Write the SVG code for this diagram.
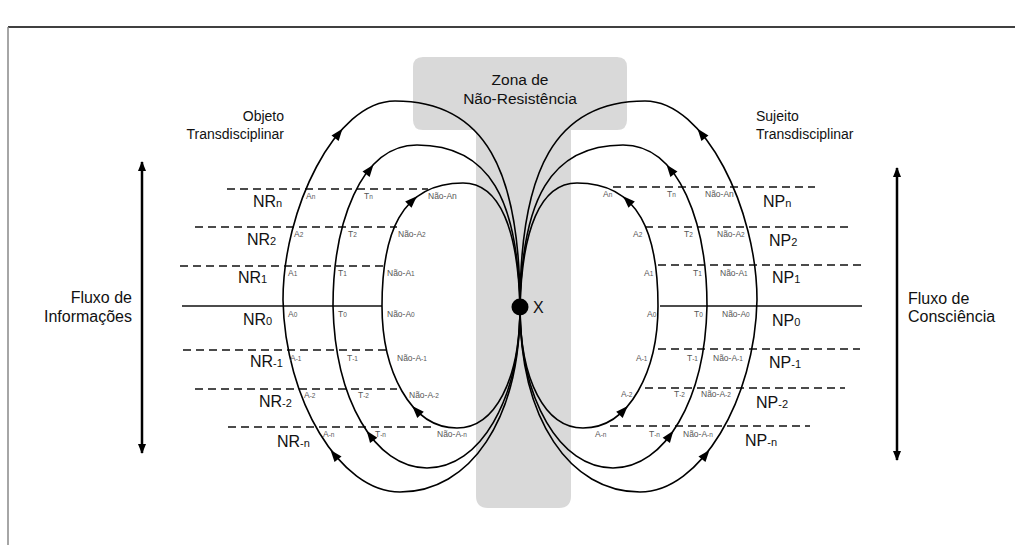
<svg xmlns="http://www.w3.org/2000/svg" xmlns:xlink="http://www.w3.org/1999/xlink" width="1015" height="545" viewBox="0 0 1015 545">
<style>
text{font-family:"Liberation Sans",Arial,sans-serif;}
.big{font-size:16px;fill:#111;}
.sub{font-size:11px;}
.sm{font-size:8.5px;fill:#555;}
.ss{font-size:6.5px;}
.desc{font-size:14px;fill:#111;}
.flux{font-size:16px;fill:#111;}
.loop{fill:none;stroke:#000;stroke-width:1.6;}
.dash{stroke:#111;stroke-width:1.3;stroke-dasharray:8 5;fill:none;}
.solid{stroke:#111;stroke-width:1.3;fill:none;}
.vflow{stroke:#000;stroke-width:2.5;marker-start:url(#vh);marker-end:url(#vh);}
</style>
<defs>
<marker id="vh" viewBox="0 0 10 10" refX="9" refY="5" markerWidth="10" markerHeight="10" markerUnits="userSpaceOnUse" orient="auto-start-reverse"><path d="M0,1 L10,5 L0,9 Z" fill="#000"/></marker>
<polygon id="ah" points="4,0 -8,-4.5 -8,4.5" fill="#000"/>
</defs>
<rect width="1015" height="545" fill="#fff"/>
<g id="frame">
<line x1="8" y1="27" x2="1015" y2="27" stroke="#000" stroke-width="1.5"/>
<line x1="8" y1="27" x2="8" y2="545" stroke="#888" stroke-width="1.5"/>
</g>
<g id="zona">
<path d="M423,57 H617 Q627,57 627,67 V120 Q627,130 617,130 H571 V496 Q571,508 559,508 H488 Q476,508 476,496 V130 H423 Q413,130 413,120 V67 Q413,57 423,57 Z" fill="#d9d9d9"/>
<text x="520" y="85" text-anchor="middle" style="font-size:15.5px;fill:#111">Zona de</text>
<text x="520" y="104" text-anchor="middle" style="font-size:15.5px;fill:#111">Não-Resistência</text>
</g>
<g id="levels-left">
<line class="dash" x1="227" y1="189" x2="428" y2="189"/>
<line class="dash" x1="195" y1="227" x2="397" y2="227"/>
<line class="dash" x1="180" y1="266" x2="383" y2="266"/>
<line class="solid" x1="182" y1="306" x2="382" y2="306"/>
<line class="dash" x1="183" y1="350" x2="388" y2="350"/>
<line class="dash" x1="195" y1="389" x2="397" y2="389"/>
<line class="dash" x1="228" y1="427" x2="432" y2="427"/>
</g>
<g id="levels-right">
<line class="dash" x1="613" y1="187" x2="815" y2="187"/>
<line class="dash" x1="645" y1="227" x2="848" y2="227"/>
<line class="dash" x1="658" y1="265" x2="862" y2="265"/>
<line class="solid" x1="660" y1="306" x2="862" y2="306"/>
<line class="dash" x1="658" y1="349" x2="860" y2="349"/>
<line class="dash" x1="645" y1="388" x2="845" y2="388"/>
<line class="dash" x1="610" y1="426" x2="810" y2="426"/>
</g>
<g id="connectors">
<g id="loops-left">
<path class="loop" d="M520,307 C520,170 485,101 395,101 C335,101 283,210 283,300 C285,400 340,492 400,492 C470,492 520,420 520,307"/>
<path class="loop" d="M520,307 C518,200 490,145 417,145 C360,145 333,225 333,306 C335,400 375,468 427,468 C480,468 520,400 520,307"/>
<path class="loop" d="M520,307 C518,230 500,183 463,183 C400,183 382,235 382,306 C382,370 410,428 457,428 C495,428 520,380 520,307"/>
<use xlink:href="#ah" href="#ah" transform="translate(340,132) rotate(-52)"/>
<use xlink:href="#ah" href="#ah" transform="translate(333,453) rotate(-129)"/>
<use xlink:href="#ah" href="#ah" transform="translate(371,168) rotate(-52)"/>
<use xlink:href="#ah" href="#ah" transform="translate(369,434) rotate(-126)"/>
<use xlink:href="#ah" href="#ah" transform="translate(414,199) rotate(-45)"/>
<use xlink:href="#ah" href="#ah" transform="translate(415,409) rotate(-134)"/>
</g>
<g id="loops-right" transform="translate(1040,0) scale(-1,1)">
<path class="loop" d="M520,307 C520,170 485,101 395,101 C335,101 283,210 283,300 C285,400 340,492 400,492 C470,492 520,420 520,307"/>
<path class="loop" d="M520,307 C518,200 490,145 417,145 C360,145 333,225 333,306 C335,400 375,468 427,468 C480,468 520,400 520,307"/>
<path class="loop" d="M520,307 C518,230 500,183 463,183 C400,183 382,235 382,306 C382,370 410,428 457,428 C495,428 520,380 520,307"/>
<use xlink:href="#ah" href="#ah" transform="translate(340,132) rotate(-52)"/>
<use xlink:href="#ah" href="#ah" transform="translate(333,453) rotate(-129)"/>
<use xlink:href="#ah" href="#ah" transform="translate(371,168) rotate(-52)"/>
<use xlink:href="#ah" href="#ah" transform="translate(369,434) rotate(-126)"/>
<use xlink:href="#ah" href="#ah" transform="translate(414,199) rotate(-45)"/>
<use xlink:href="#ah" href="#ah" transform="translate(415,409) rotate(-134)"/>
</g>
<line class="vflow" x1="142" y1="162" x2="142" y2="453"/>
<line class="vflow" x1="897" y1="168" x2="897" y2="460"/>
</g>
<g id="point-x">
<circle cx="520" cy="307" r="8.5" fill="#000"/>
<text x="533" y="313" style="font-size:16px;fill:#111">X</text>
</g>
<g id="objeto">
<text class="desc" x="284" y="121" text-anchor="end">Objeto</text>
<text class="desc" x="284" y="139" text-anchor="end">Transdisciplinar</text>
</g>
<g id="sujeito">
<text class="desc" x="756" y="121">Sujeito</text>
<text class="desc" x="756" y="139">Transdisciplinar</text>
</g>
<g id="fluxo-informacoes">
<text class="flux" x="132" y="303" text-anchor="end">Fluxo de</text>
<text class="flux" x="132" y="322" text-anchor="end">Informações</text>
</g>
<g id="fluxo-consciencia">
<text class="flux" x="908" y="304">Fluxo de</text>
<text class="flux" x="908" y="322">Consciência</text>
</g>
<g id="labels-nr">
<text class="big" x="253" y="207">NR<tspan class="sub">n</tspan></text>
<text class="big" x="247" y="245">NR<tspan class="sub">2</tspan></text>
<text class="big" x="238" y="283">NR<tspan class="sub">1</tspan></text>
<text class="big" x="243" y="325">NR<tspan class="sub">0</tspan></text>
<text class="big" x="250" y="367">NR<tspan class="sub">-1</tspan></text>
<text class="big" x="259" y="407">NR<tspan class="sub">-2</tspan></text>
<text class="big" x="277" y="447">NR<tspan class="sub">-n</tspan></text>
</g>
<g id="labels-np">
<text class="big" x="763" y="207">NP<tspan class="sub">n</tspan></text>
<text class="big" x="769" y="246">NP<tspan class="sub">2</tspan></text>
<text class="big" x="772" y="283">NP<tspan class="sub">1</tspan></text>
<text class="big" x="772" y="326">NP<tspan class="sub">0</tspan></text>
<text class="big" x="769" y="368">NP<tspan class="sub">-1</tspan></text>
<text class="big" x="756" y="408">NP<tspan class="sub">-2</tspan></text>
<text class="big" x="745" y="446">NP<tspan class="sub">-n</tspan></text>
</g>
<g id="labels-left-small">
<text class="sm" x="306" y="199">A<tspan class="ss">n</tspan></text>
<text class="sm" x="364" y="199">T<tspan class="ss">n</tspan></text>
<text class="sm" x="428" y="199">Não-An</text>
<text class="sm" x="294" y="237">A<tspan class="ss">2</tspan></text>
<text class="sm" x="348" y="237">T<tspan class="ss">2</tspan></text>
<text class="sm" x="398" y="237">Não-A<tspan class="ss">2</tspan></text>
<text class="sm" x="288" y="276">A<tspan class="ss">1</tspan></text>
<text class="sm" x="338" y="276">T<tspan class="ss">1</tspan></text>
<text class="sm" x="387" y="276">Não-A<tspan class="ss">1</tspan></text>
<text class="sm" x="288" y="317">A<tspan class="ss">0</tspan></text>
<text class="sm" x="338" y="317">T<tspan class="ss">0</tspan></text>
<text class="sm" x="387" y="317">Não-A<tspan class="ss">0</tspan></text>
<text class="sm" x="290" y="361">A<tspan class="ss">-1</tspan></text>
<text class="sm" x="347" y="361">T<tspan class="ss">-1</tspan></text>
<text class="sm" x="397" y="361">Não-A<tspan class="ss">-1</tspan></text>
<text class="sm" x="304" y="398">A<tspan class="ss">-2</tspan></text>
<text class="sm" x="358" y="398">T<tspan class="ss">-2</tspan></text>
<text class="sm" x="409" y="398">Não-A<tspan class="ss">-2</tspan></text>
<text class="sm" x="323" y="437">A<tspan class="ss">-n</tspan></text>
<text class="sm" x="375" y="437">T<tspan class="ss">-n</tspan></text>
<text class="sm" x="437" y="437">Não-A<tspan class="ss">-n</tspan></text>
</g>
<g id="labels-right-small">
<text class="sm" x="603" y="197">A<tspan class="ss">n</tspan></text>
<text class="sm" x="667" y="197">T<tspan class="ss">n</tspan></text>
<text class="sm" x="705" y="197">Não-An</text>
<text class="sm" x="633" y="237">A<tspan class="ss">2</tspan></text>
<text class="sm" x="684" y="237">T<tspan class="ss">2</tspan></text>
<text class="sm" x="717" y="237">Não-A<tspan class="ss">2</tspan></text>
<text class="sm" x="644" y="276">A<tspan class="ss">1</tspan></text>
<text class="sm" x="693" y="276">T<tspan class="ss">1</tspan></text>
<text class="sm" x="720" y="276">Não-A<tspan class="ss">1</tspan></text>
<text class="sm" x="647" y="317">A<tspan class="ss">0</tspan></text>
<text class="sm" x="694" y="317">T<tspan class="ss">0</tspan></text>
<text class="sm" x="722" y="317">Não-A<tspan class="ss">0</tspan></text>
<text class="sm" x="636" y="361">A<tspan class="ss">-1</tspan></text>
<text class="sm" x="687" y="361">T<tspan class="ss">-1</tspan></text>
<text class="sm" x="713" y="361">Não-A<tspan class="ss">-1</tspan></text>
<text class="sm" x="621" y="397">A<tspan class="ss">-2</tspan></text>
<text class="sm" x="674" y="397">T<tspan class="ss">-2</tspan></text>
<text class="sm" x="701" y="397">Não-A<tspan class="ss">-2</tspan></text>
<text class="sm" x="595" y="437">A<tspan class="ss">-n</tspan></text>
<text class="sm" x="649" y="437">T<tspan class="ss">-n</tspan></text>
<text class="sm" x="683" y="437">Não-A<tspan class="ss">-n</tspan></text>
</g>
</svg>
